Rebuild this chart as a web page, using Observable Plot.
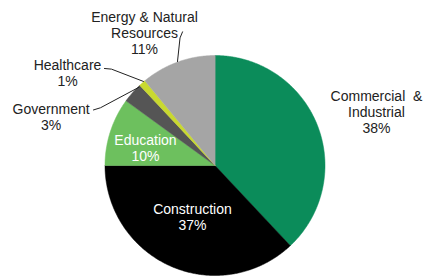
<!DOCTYPE html>
<html><head><meta charset="utf-8">
<script src="https://cdn.jsdelivr.net/npm/d3@7"></script>
<script src="https://cdn.jsdelivr.net/npm/@observablehq/plot@0.6"></script>
<style>html,body{margin:0;padding:0;background:#fff}</style>
</head><body><div id="chart"></div>
<script>
// ---- data ----
const sectors = ["Commercial & Industrial", "Construction", "Education", "Government", "Healthcare", "Energy & Natural Resources"];
const shares = [38, 37, 10, 3, 1, 11];
const labelNames = ["Commercial  &\nIndustrial", "Construction", "Education", "Government", "Healthcare", "Energy & Natural\nResources"];
const colors = ["#0b8c5a", "#000000", "#6dc05e", "#555555", "#c9d92f", "#a5a5a5"];

// ---- layout (unit-circle coordinates, y down) ----
const labelU = [1.468, -0.205, -0.632, -1.49, -1.341, -0.641];
const labelV = [-0.486, 0.464, -0.159, -0.445, -0.841, -1.205];
const labelInside = [false, true, true, false, false, false];
const leaders = [
  [[-0.295, -1.215], [-0.318, -1.16], [-0.341, -0.945]],
  [[-1.005, -0.882], [-0.941, -0.876], [-0.650, -0.764]],
  [[-1.105, -0.505], [-1.041, -0.525], [-0.690, -0.712]]
];

const rows = sectors.map((s, i) => ({sector: s, share: shares[i]}));
const arcs = d3.pie().sort(null).value(d => d.share)(rows);
const deg = Math.PI / 180;
const slices = arcs.map(a => {
  const n = Math.max(2, Math.ceil((a.endAngle - a.startAngle) / (0.5 * deg)));
  const pts = [[0, 0]];
  for (let i = 0; i <= n; i++) {
    const t = a.startAngle + (a.endAngle - a.startAngle) * i / n;
    pts.push([Math.sin(t), -Math.cos(t)]);
  }
  pts.push([0, 0]);
  return {type: "Feature", properties: {sector: a.data.sector}, geometry: {type: "Polygon", coordinates: [pts]}};
});
const labelRows = sectors.map((s, i) => ({
  sector: s, u: labelU[i], v: labelV[i], inside: labelInside[i],
  text: labelNames[i] + "\n" + shares[i] + "%"
}));
const leaderFeatures = leaders.map(l => ({type: "Feature", properties: {}, geometry: {type: "LineString", coordinates: l}}));

const font = "'Liberation Sans', Arial, Helvetica, sans-serif";
const chart = Plot.plot({
  width: 424,
  height: 276,
  margin: 0,
  style: {fontFamily: font, background: "#fff"},
  projection: {
    type: "identity",
    domain: {type: "MultiPoint", coordinates: [[-1, -1], [1, 1]]},
    insetTop: 55, insetLeft: 104.5, insetRight: 99.5, insetBottom: 1
  },
  color: {domain: sectors, range: colors},
  marks: [
    Plot.geo(slices, {fill: d => d.properties.sector, stroke: d => d.properties.sector, strokeWidth: 0.5}),
    Plot.geo(leaderFeatures, {stroke: "#222", strokeWidth: 1, fill: "none"}),
    Plot.text(labelRows.filter(d => !d.inside), {x: "u", y: "v", text: "text", fill: "#222", fontSize: 14, lineHeight: 1.13, fontFamily: font}),
    Plot.text(labelRows.filter(d => d.inside), {x: "u", y: "v", text: "text", fill: "#fff", fontSize: 14, lineHeight: 1.13, fontFamily: font})
  ]
});
document.getElementById("chart").appendChild(chart);
</script>
</body></html>
